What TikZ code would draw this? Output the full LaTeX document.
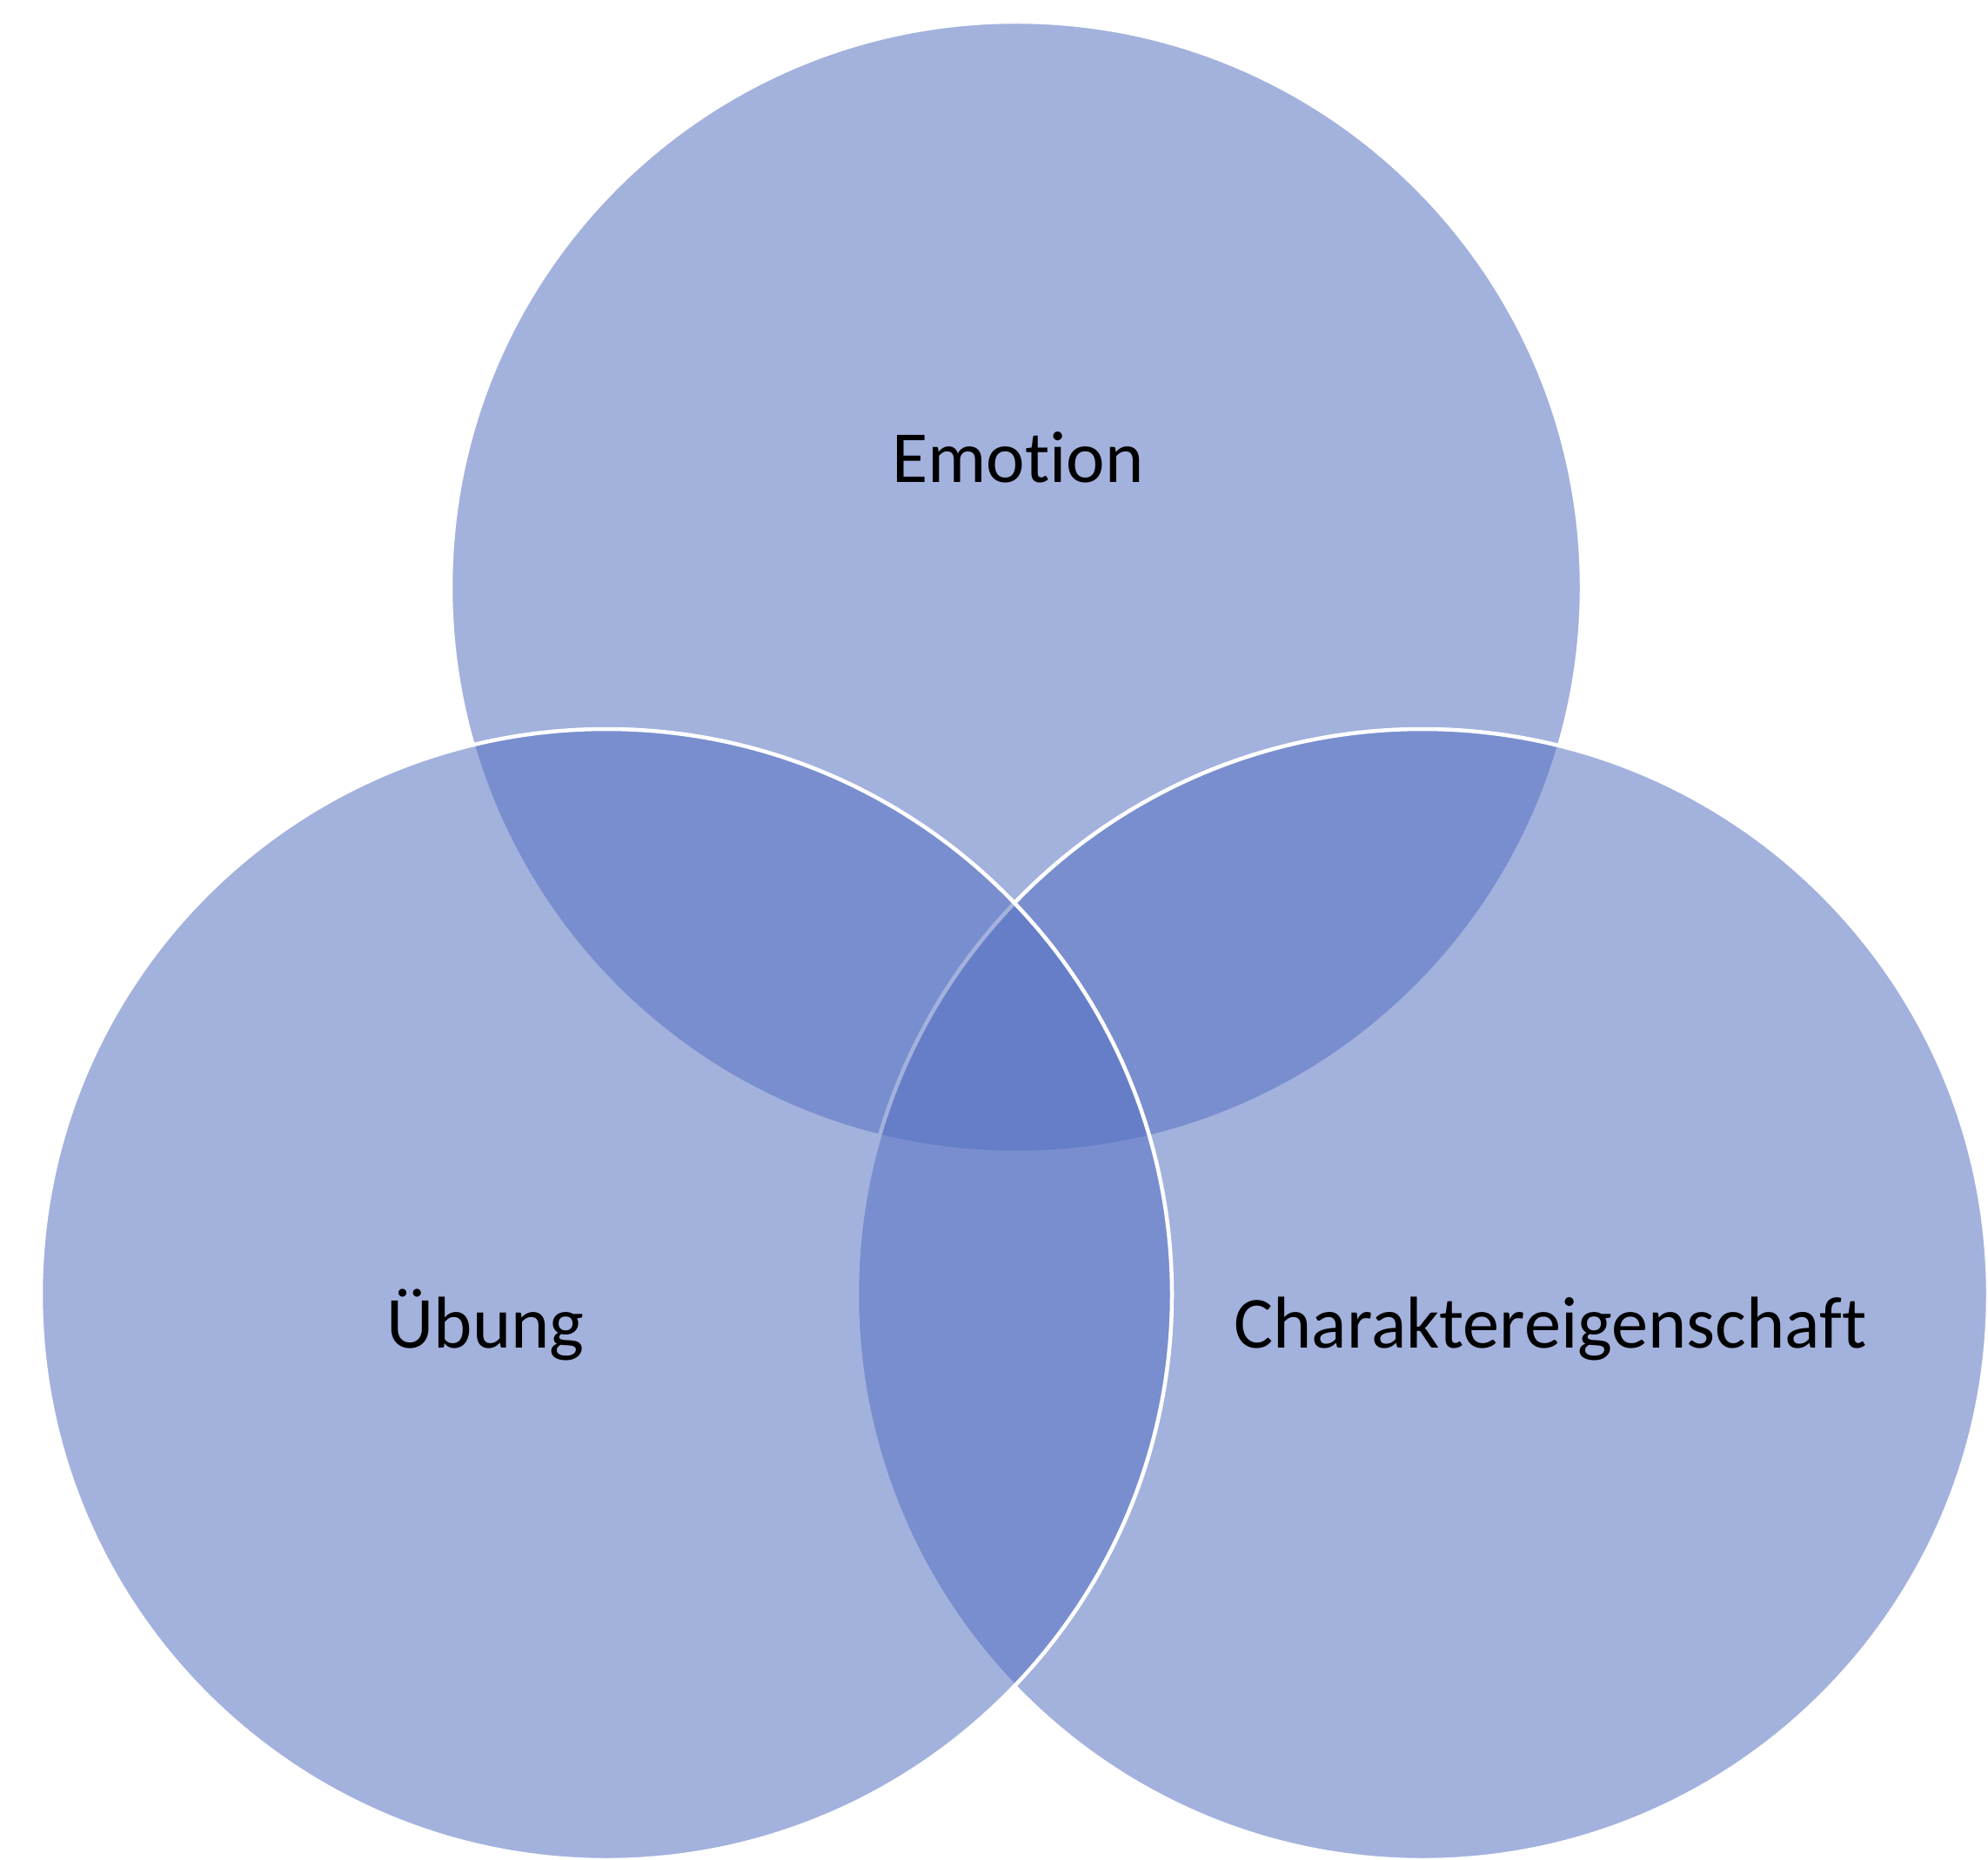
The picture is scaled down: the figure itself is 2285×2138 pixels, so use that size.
\documentclass[tikz,border=0pt]{standalone}
\usepackage{fontspec}
\setmainfont{Carlito}[Ligatures={NoCommon}]
\definecolor{vennblue}{RGB}{88,114,194}
\begin{document}
\begin{tikzpicture}[x=0.1mm,y=-0.1mm,
  venn/.style={circle, minimum size=130mm, inner sep=0pt, fill=vennblue, fill opacity=0.55, draw=white, draw opacity=1, line width=0.45mm},
  lbl/.style={anchor=base, font=\fontsize{24}{28}\selectfont, text=black, inner sep=0pt}]
\fill[white] (0,0) rectangle (2285,2138);
\useasboundingbox (0,0) rectangle (2285,2138);
\node[venn] (emo) at (1168,675) {};
\node[venn] (cha) at (1635,1488) {};
\node[venn] (ueb) at (697,1488) {};
\node[lbl] (temo) at (1170,555) {Emotion};
\node[lbl] (tueb) at (558,1549) {Übung};
\node[lbl] (tcha) at (1782,1549) {Charaktereigenschaft};
\end{tikzpicture}
\end{document}
